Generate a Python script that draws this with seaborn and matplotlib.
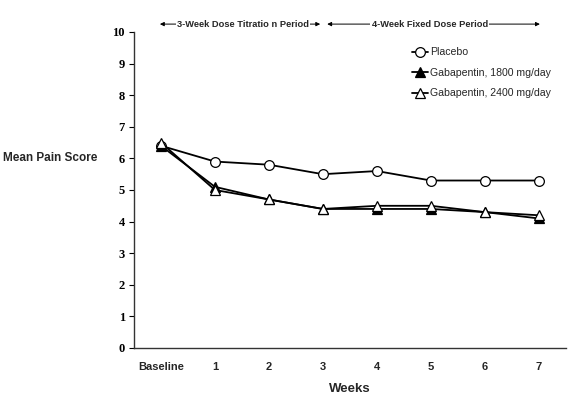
import matplotlib
matplotlib.use('Agg')
import matplotlib.pyplot as plt
import seaborn as sns
import numpy as np
import pandas as pd

# data
weeks = ['Baseline', '1', '2', '3', '4', '5', '6', '7']
placebo = [6.4, 5.9, 5.8, 5.5, 5.6, 5.3, 5.3, 5.3]
gaba_1800 = [6.4, 5.1, 4.7, 4.4, 4.4, 4.4, 4.3, 4.1]
gaba_2400 = [6.5, 5.0, 4.7, 4.4, 4.5, 4.5, 4.3, 4.2]
series_names = ['Placebo', 'Gabapentin, 1800 mg/day', 'Gabapentin, 2400 mg/day']
y_ticks = list(range(0, 11))

sns.set_style('white')

fig = plt.figure(figsize=(5.75, 3.95), dpi=100)
ax = fig.add_axes([0.233, 0.119, 0.751, 0.80])

x = np.arange(len(weeks))
styles = [
    ('o', 'white'),
    ('^', 'black'),
    ('^', 'white'),
]
for name, vals, (mk, fc) in zip(series_names, [placebo, gaba_1800, gaba_2400], styles):
    sns.lineplot(x=x, y=vals, ax=ax, color='black', linewidth=1.3,
                 marker=mk, markersize=7, markerfacecolor=fc,
                 markeredgecolor='black', markeredgewidth=0.9, label=name)

ax.set_xlim(-0.5, 7.5)
ax.set_ylim(0, 10)
ax.set_xticks(x)
ax.set_xticklabels(weeks, fontfamily='Liberation Sans', fontweight='bold', fontsize=8)
ax.set_yticks(y_ticks)
ax.set_yticklabels([str(t) for t in y_ticks], fontfamily='Liberation Serif',
                   fontweight='bold', fontsize=9)
ax.tick_params(axis='y', length=3.5, width=0.8, direction='out', left=True, pad=3, colors='black')
ax.tick_params(axis='x', length=0, pad=10)

sns.despine(ax=ax)
for s in ['left', 'bottom']:
    ax.spines[s].set_color('#333333')
    ax.spines[s].set_linewidth(1.0)

ax.set_xlabel('Weeks', fontfamily='Liberation Sans', fontweight='bold', fontsize=9.5, labelpad=8)
ax.set_ylabel('')
fig.text(0.005, 0.60, 'Mean Pain Score', fontfamily='Liberation Sans', fontweight='bold',
         fontsize=8.5, ha='left', va='center')

# period arrows above the plot
arr_y = 10.25
aprops = dict(arrowstyle='<|-|>', color='black', lw=0.7, mutation_scale=6,
              shrinkA=0, shrinkB=0)
ax.annotate('', xy=(-0.02, arr_y), xytext=(2.95, arr_y), xycoords='data',
            arrowprops=aprops, annotation_clip=False)
ax.annotate('', xy=(3.08, arr_y), xytext=(7.02, arr_y), xycoords='data',
            arrowprops=aprops, annotation_clip=False)
tb = dict(facecolor='white', edgecolor='none', pad=1.0)
ax.text(1.52, arr_y, '3-Week Dose Titratio n Period', ha='center', va='center',
        fontfamily='Liberation Sans', fontweight='bold', fontsize=6.7, bbox=tb, clip_on=False)
ax.text(4.98, arr_y, '4-Week Fixed Dose Period', ha='center', va='center',
        fontfamily='Liberation Sans', fontweight='bold', fontsize=6.7, bbox=tb, clip_on=False)

leg = ax.legend(loc='upper left', bbox_to_anchor=(0.635, 0.965), frameon=False,
                prop={'family': 'Liberation Sans', 'size': 7.6}, handlelength=1.5,
                handletextpad=0.2, labelspacing=1.0, borderaxespad=0)

fig.savefig('out.png', dpi=100)
